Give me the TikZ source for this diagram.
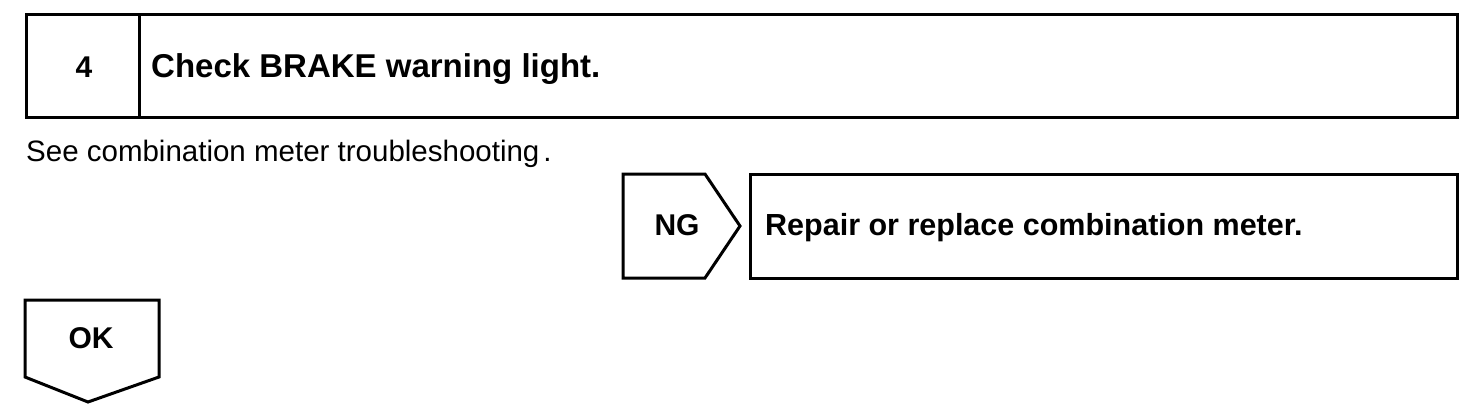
\documentclass[tikz,border=0pt]{standalone}
\usepackage{fontspec}
\setmainfont{Liberation Sans}
\begin{document}
\begin{tikzpicture}[x=1pt,y=-1pt,
  frame/.style={draw=black,line width=3pt,line join=miter},
  headtxt/.style={inner sep=0pt,anchor=base west,font=\fontsize{33}{36}\selectfont\bfseries},
  boldtxt/.style={inner sep=0pt,anchor=base west,font=\fontsize{30.5}{34}\selectfont\bfseries},
  tagtxt/.style={inner sep=0pt,anchor=base,font=\fontsize{30}{34}\selectfont\bfseries},
  plaintxt/.style={inner sep=0pt,anchor=base west,font=\fontsize{29.5}{33}\selectfont}]
\useasboundingbox (0,0) rectangle (1472,416);
% header box
\coordinate (h1) at (26,14);
\coordinate (h2) at (1457,117);
\draw[frame] (h1) rectangle (h2);
\draw[frame] (139,14) -- (139,117);
\node[tagtxt] (num) at (84,77) {4};
\node[headtxt] (head) at (151,77) {Check BRAKE warning light.};
\node[plaintxt] (see) at (26,161) {See combination meter troubleshooting\kern4pt.};
% NG tag
\draw[frame] (623,174) -- (705,174) -- (740,226) -- (705,278) -- (623,278) -- cycle;
\node[tagtxt] (ng) at (677,235) {NG};
% repair box
\draw[frame] (750,174) rectangle (1457,278);
\node[boldtxt] (repair) at (765,235) {Repair or replace combination meter.};
% OK tag
\draw[frame] (25,300) -- (159,300) -- (159,377) -- (88,402) -- (25,377) -- cycle;
\node[tagtxt] (ok) at (91,348) {OK};
\end{tikzpicture}
\end{document}
